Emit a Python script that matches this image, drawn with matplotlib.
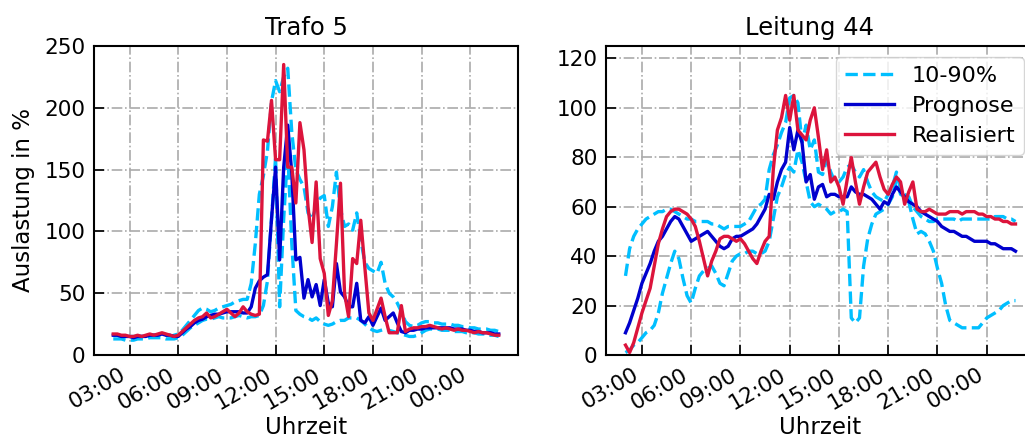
import matplotlib
matplotlib.use("Agg")
import matplotlib.pyplot as plt
import matplotlib.dates as mdates
import pandas as pd

# ---------------- data ----------------
start_time = "2023-01-01 02:00"
n_points = 96
freq = "15min"

trafo_p90 = [16,16,15,15,15,15,15,15,15,16,16,16,17,16,15,16,17,
             20,24,28,32,36,38,37,35,36,38,39,40,41,43,44,45,
             45,58,90,130,145,165,205,222,213,225,232,180,150,142,136,115,110,120,127,129,
             104,120,148,118,104,106,101,115,93,75,70,68,66,75,58,50,47,42,35,27,
             24,23,24,26,27,27,26,26,25,25,25,24,24,23,23,22,22,21,21,21,20,20,19]
trafo_p10 = [13,13,13,12,12,12,13,13,13,14,14,14,14,13,13,13,14,
             16,19,22,24,26,28,29,29,30,31,30,30,30,31,32,31,
             30,31,31,32,40,60,110,160,39,110,165,90,36,33,31,30,28,30,27,25,
             24,25,27,28,28,30,30,30,28,25,22,20,19,20,21,20,19,18,17,16,
             15,15,16,18,20,21,21,21,20,20,20,19,19,19,18,18,18,17,17,17,16,16,15]
trafo_prognose = [16,16,15,15,15,14,15,15,15,16,16,16,17,16,16,15,15,
                  18,21,23,26,28,29,31,32,33,33,34,35,35,35,35,34,
                  34,39,54,60,63,65,110,152,77,152,186,147,77,79,46,61,47,57,40,61,
                  42,39,74,51,47,39,39,58,28,26,31,24,31,38,28,31,34,26,19,18,
                  20,20,21,21,22,22,22,22,22,22,22,21,21,21,20,20,19,19,18,18,18,17,17]
trafo_real = [17,17,16,16,15,15,16,15,16,17,16,17,18,17,16,15,16,
              19,22,25,28,30,31,34,30,31,33,35,37,34,31,34,39,35,33,32,33,
              174,173,206,158,158,235,152,152,123,188,166,120,91,140,78,66,32,44,
              90,139,50,31,78,74,109,71,34,28,37,46,31,18,18,18,40,19,
              21,22,22,23,23,24,23,22,21,22,21,20,21,20,20,19,18,19,18,18,17,16,16]

leitung_p90 = [32,43,48,51,53,55,56,57,58,58,59,59,58,57,56,55,55,54,54,54,
               54,53,53,52,51,52,52,52,52,53,54,57,60,61,63,75,81,85,90,94,
               104,105,102,86,93,83,87,74,73,79,74,70,70,72,76,77,74,72,75,70,
               66,64,63,62,65,68,74,67,65,64,60,58,56,55,54,54,55,55,55,55,
               55,54,55,55,55,55,55,55,55,55,56,56,56,55,55,54]
leitung_p10 = [1,2,4,5,7,9,10,12,17,25,31,37,42,39,31,24,21,27,32,34,
               35,36,33,29,28,33,38,40,41,41,42,42,41,41,42,46,55,64,68,73,
               76,74,83,78,70,62,60,61,60,59,57,58,58,59,58,15,13,15,36,47,
               53,57,58,59,61,64,71,65,64,62,55,49,50,49,46,42,35,29,20,14,
               13,12,11,11,11,11,11,13,15,16,17,18,20,21,22,22]
leitung_prognose = [9,13,18,23,29,33,37,42,46,48,51,54,56,55,52,49,46,47,48,49,
                    50,48,46,44,43,44,47,48,48,49,50,51,53,56,59,65,63,70,75,78,
                    92,83,91,86,70,73,63,68,69,64,65,65,64,64,64,68,66,65,65,64,
                    63,61,59,62,61,65,68,66,64,62,61,60,58,57,56,55,54,52,51,50,
                    50,49,48,48,47,46,46,46,46,45,45,44,43,43,43,42]
leitung_real = [4,1,5,11,17,22,27,36,45,51,56,58,59,59,58,57,55,52,46,39,
                32,38,42,47,48,48,47,46,47,45,42,39,37,42,46,48,75,91,96,105,
                95,105,91,89,87,95,100,88,75,83,70,72,68,61,71,80,70,61,68,74,
                76,78,72,67,65,69,72,70,61,66,70,59,58,58,59,58,57,57,57,58,
                58,58,57,58,58,58,57,57,56,56,55,55,54,54,53,53]

titles = ["Trafo 5", "Leitung 44"]
ylims = [(0, 250), (0, 125)]
yticks = [[0, 50, 100, 150, 200, 250], [0, 20, 40, 60, 80, 100, 120]]
legend_labels = ["10-90%", "Prognose", "Realisiert"]
xlabel = "Uhrzeit"
ylabel = "Auslastung in %"

# ---------------- plot ----------------
plt.rcParams['font.family'] = ['DejaVu Sans']
times = pd.date_range(start_time, periods=n_points, freq=freq)

c_band = "#00BFFF"
c_prog = "#0000CD"
c_real = "#DC143C"
lw = 2.4

fig = plt.figure(figsize=(10.25, 4.38), dpi=100)
ax1 = fig.add_axes([94/1025, 83/438, 424/1025, 309/438])
ax2 = fig.add_axes([606/1025, 83/438, 429/1025, 309/438])

panels = [
    (ax1, trafo_p90, trafo_p10, trafo_prognose, trafo_real),
    (ax2, leitung_p90, leitung_p10, leitung_prognose, leitung_real),
]
title_x = [0.5, 0.4755]

for k, (ax, p90, p10, prog, real) in enumerate(panels):
    ax.plot(times, p90, color=c_band, ls="--", lw=lw, label=legend_labels[0])
    ax.plot(times, p10, color=c_band, ls="--", lw=lw, label="_nolegend_")
    ax.plot(times, prog, color=c_prog, lw=lw, label=legend_labels[1])
    ax.plot(times, real, color=c_real, lw=lw, label=legend_labels[2])
    ax.set_ylim(*ylims[k])
    ax.set_yticks(yticks[k])
    ax.set_title(titles[k], fontsize=17.5, pad=8, x=title_x[k])
    ax.set_xlabel(xlabel, fontsize=16.5, labelpad=2)
    ax.xaxis.set_major_locator(mdates.HourLocator(byhour=[0, 3, 6, 9, 12, 15, 18, 21]))
    ax.xaxis.set_major_formatter(mdates.DateFormatter("%H:%M"))
    ax.grid(True, ls="-.", color="#aaaaaa", lw=1.2)
    ax.set_axisbelow(True)
    ax.tick_params(direction="in", labelsize=15.5, length=7, width=1.2)
    ax.tick_params(axis="y", pad=6)
    ax.tick_params(axis="x", pad=7)
    for lab in ax.get_xticklabels():
        lab.set_rotation(30)
        lab.set_ha("right")
    for sp in ax.spines.values():
        sp.set_linewidth(1.5)

ax1.set_ylabel(ylabel, fontsize=16.5, labelpad=7)
ax2.legend(loc="upper right", fontsize=16, handlelength=2.2, labelspacing=0.45)

fig.savefig("out.png", dpi=100)
